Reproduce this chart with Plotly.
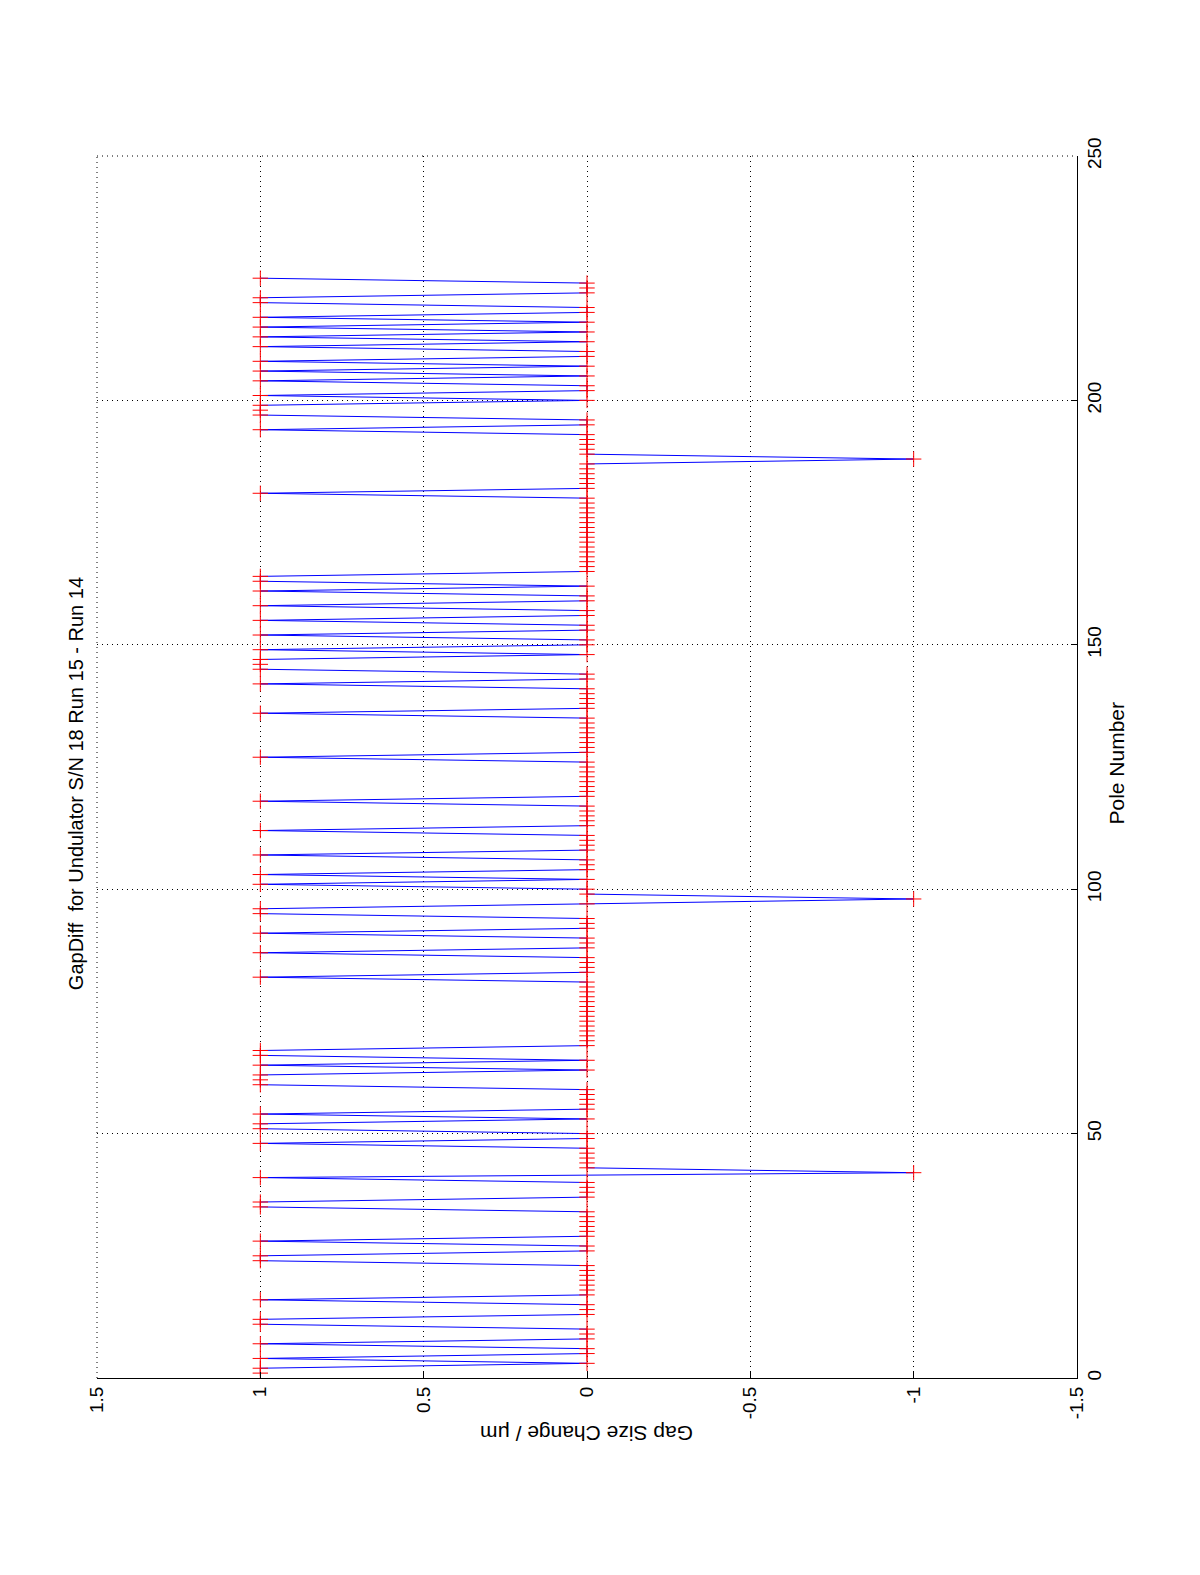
import plotly.graph_objects as go

poles = list(range(1, 226))
gap_change = [
    1, 1, 0, 1, 0, 0, 1, 0, 0, 0, 1, 1, 0, 0, 0, 1, 0, 0, 0, 0, 0, 0, 0, 1, 1,      # 1-25
    0, 0, 1, 0, 0, 0, 0, 0, 0, 1, 1, 0, 0, 0, 0, 1, -1, 0, 0, 0, 0, 0, 1, 0, 0,     # 26-50
    1, 1, 0, 1, 0, 0, 0, 0, 0, 1, 1, 1, 0, 1, 0, 1, 1, 0, 0, 0, 0, 0, 0, 0, 0,      # 51-75
    0, 0, 0, 0, 0, 0, 1, 0, 0, 0, 0, 1, 0, 0, 0, 1, 0, 0, 0, 1, 1, 0, -1, 0, 0,     # 76-100
    1, 0, 1, 0, 0, 0, 1, 0, 0, 0, 0, 1, 0, 0, 0, 0, 0, 1, 0, 0, 0, 0, 0, 0, 0,      # 101-125
    0, 1, 0, 0, 0, 0, 0, 0, 0, 0, 1, 0, 0, 0, 0, 0, 1, 0, 0, 1, 1, 1, 0, 1, 0,      # 126-150
    0, 1, 0, 0, 1, 0, 0, 1, 0, 0, 1, 0, 1, 1, 0, 0, 0, 0, 0, 0, 0, 0, 0, 0, 0,      # 151-175
    0, 0, 0, 0, 0, 1, 0, 0, 0, 0, 0, 0, -1, 0, 0, 0, 0, 0, 1, 0, 0, 1, 1, 1, 0,     # 176-200
    1, 0, 0, 1, 0, 1, 0, 1, 0, 0, 1, 0, 1, 0, 1, 0, 1, 0, 0, 1, 1, 0, 0, 0, 1,      # 201-225
]

gap_ticks = [-1.5, -1, -0.5, 0, 0.5, 1, 1.5]
gap_tick_text = ["-1.5", "-1", "-0.5", "0", "0.5", "1", "1.5"]
pole_ticks = [0, 50, 100, 150, 200, 250]

title_text = "GapDiff  for Undulator S/N 18 Run 15 - Run 14"
xlabel_text = "Gap Size Change / \u03bcm"
ylabel_text = "Pole Number"

font_name = "Liberation Sans, Arial, sans-serif"
grid_dash = "1px,4px"

# the page is a matlab figure turned on its side: gap goes across, poles go up
fig = go.Figure()
fig.add_trace(go.Scatter(
    x=gap_change, y=poles, mode="lines",
    line=dict(color="#0000ff", width=1),
    hoverinfo="skip", showlegend=False,
))
fig.add_trace(go.Scatter(
    x=gap_change, y=poles, mode="markers",
    marker=dict(symbol="cross-thin", size=11, line=dict(color="#ff0000", width=1)),
    showlegend=False,
))

# box off: only the two real axes are solid, the far edges are just grid dots
axis_common = dict(
    showline=True, linecolor="black", linewidth=1, mirror=False,
    ticks="inside", ticklen=6, tickcolor="black",
    showgrid=True, gridcolor="black", gridwidth=1, griddash=grid_dash,
    zeroline=False, tickangle=-90, automargin=False,
    tickfont=dict(family=font_name, size=19, color="black"),
)

fig.update_xaxes(
    range=[1.5, -1.5], tickvals=gap_ticks, ticktext=gap_tick_text,
    **axis_common,
)
fig.update_yaxes(
    range=[0, 250], tickvals=pole_ticks, side="right",
    **axis_common,
)

# plotly skips grid lines sitting on the range ends, add those two back
edge_line = dict(color="black", width=1, dash=grid_dash)
fig.add_shape(type="line", xref="paper", yref="paper", x0=0, x1=0, y0=0, y1=1, line=edge_line)
fig.add_shape(type="line", xref="paper", yref="paper", x0=0, x1=1, y0=1, y1=1, line=edge_line)

fig.add_annotation(
    text=title_text, xref="paper", yref="paper", x=-0.0214, y=0.486,
    textangle=-90, showarrow=False, xanchor="center", yanchor="middle",
    font=dict(family=font_name, size=20, color="black"),
)
fig.add_annotation(
    text=ylabel_text, xref="paper", yref="paper", x=1.04, y=0.503,
    textangle=-90, showarrow=False, xanchor="center", yanchor="middle",
    font=dict(family=font_name, size=21, color="black"),
)
fig.add_annotation(
    text=xlabel_text, xref="paper", yref="paper", x=0.5, y=-0.045,
    textangle=180, showarrow=False, xanchor="center", yanchor="middle",
    font=dict(family=font_name, size=21, color="black"),
)

fig.update_layout(
    width=1200, height=1575,
    margin=dict(l=89, r=131, t=148, b=205),
    plot_bgcolor="white", paper_bgcolor="white",
    font=dict(family=font_name, size=19, color="black"),
)

fig.write_html("out.html")
